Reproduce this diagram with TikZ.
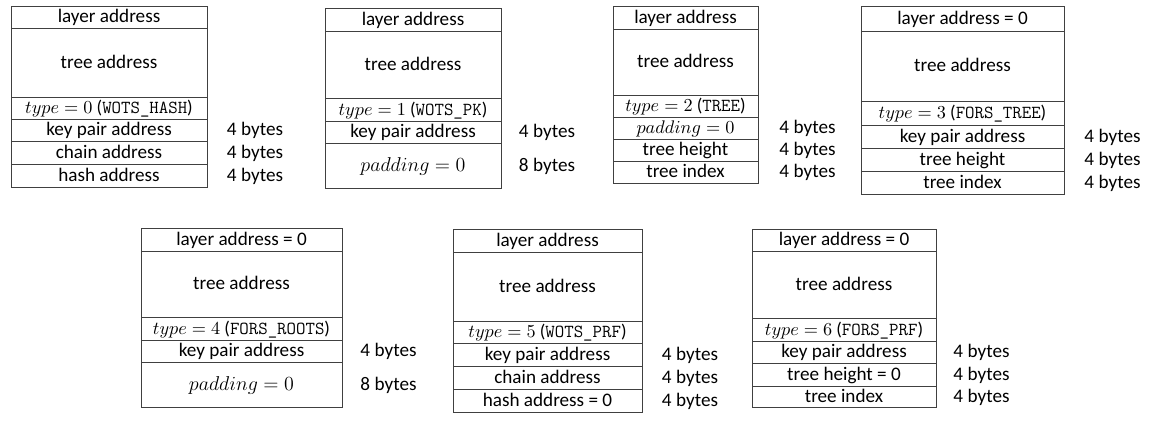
\documentclass[tikz,border=0pt]{standalone}
\usepackage{fontspec}
\setmainfont{Carlito}
\tikzset{
  frame/.style={draw=black!75, line width=0.6pt},
  field/.style={font=\fontsize{11.5}{13.5}\selectfont, inner sep=0pt, text height=7.8pt, text depth=2pt},
  typefield/.style={font=\fontsize{11}{13}\selectfont, inner sep=0pt, text height=7.5pt, text depth=2pt},
  padfield/.style={font=\fontsize{11.5}{13.5}\selectfont, inner sep=0pt, text height=7.8pt, text depth=2pt},
  bytes/.style={field}
}
\begin{document}
\begin{tikzpicture}[x=0.6pt, y=-0.6pt]
\useasboundingbox (0,0) rectangle (1159,428);
% type 0: WOTS_HASH
\draw[frame] (11,7) rectangle (207,188);
\foreach \y in {29,98,120,142,165} \draw[frame] (11,\y) -- (207,\y);
\node[field] (wh-layer) at (109,18) {layer address};
\node[field] (wh-tree) at (109,63.5) {tree address};
\node[typefield] (wh-type) at (109,109) {$type=0$ (\texttt{WOTS\_HASH})};
\node[field] (wh-kp) at (109,131) {key pair address};
\node[field] (wh-chain) at (109,153.5) {chain address};
\node[field] (wh-hash) at (109,176.5) {hash address};
\node[bytes] (wh-kpb) at (255,131) {4 bytes};
\node[bytes] (wh-chainb) at (255,153.5) {4 bytes};
\node[bytes] (wh-hashb) at (255,176.5) {4 bytes};
% type 1: WOTS_PK
\draw[frame] (325,9) rectangle (501,189);
\foreach \y in {32,99,122,144} \draw[frame] (325,\y) -- (501,\y);
\node[field] (wp-layer) at (413,20.5) {layer address};
\node[field] (wp-tree) at (413,65.5) {tree address};
\node[typefield] (wp-type) at (413,110.5) {$type=1$ (\texttt{WOTS\_PK})};
\node[field] (wp-kp) at (413,133) {key pair address};
\node[padfield] (wp-pad) at (413,166.5) {$padding=0$};
\node[bytes] (wp-kpb) at (547,133) {4 bytes};
\node[bytes] (wp-padb) at (547,166.5) {8 bytes};
% type 2: TREE
\draw[frame] (613,7) rectangle (758,184);
\foreach \y in {30,96,118,140,162} \draw[frame] (613,\y) -- (758,\y);
\node[field] (tr-layer) at (685.5,18.5) {layer address};
\node[field] (tr-tree) at (685.5,63) {tree address};
\node[typefield] (tr-type) at (685.5,107) {$type=2$ (\texttt{TREE})};
\node[typefield] (tr-pad) at (685.5,129) {$padding=0$};
\node[field] (tr-height) at (685.5,151) {tree height};
\node[field] (tr-index) at (685.5,173) {tree index};
\node[bytes] (tr-padb) at (807.5,129) {4 bytes};
\node[bytes] (tr-heightb) at (807.5,151) {4 bytes};
\node[bytes] (tr-indexb) at (807.5,173) {4 bytes};
% type 3: FORS_TREE
\draw[frame] (861,7) rectangle (1064,195);
\foreach \y in {32,102,126,149,172} \draw[frame] (861,\y) -- (1064,\y);
\node[field] (ft-layer) at (962.5,19.5) {layer address = 0};
\node[field] (ft-tree) at (962.5,67) {tree address};
\node[typefield] (ft-type) at (962.5,114) {$type=3$ (\texttt{FORS\_TREE})};
\node[field] (ft-kp) at (962.5,137.5) {key pair address};
\node[field] (ft-height) at (962.5,160.5) {tree height};
\node[field] (ft-index) at (962.5,183.5) {tree index};
\node[bytes] (ft-kpb) at (1112.5,137.5) {4 bytes};
\node[bytes] (ft-heightb) at (1112.5,160.5) {4 bytes};
\node[bytes] (ft-indexb) at (1112.5,183.5) {4 bytes};
% type 4: FORS_ROOTS
\draw[frame] (141,229) rectangle (342,408);
\foreach \y in {252,318,341,363} \draw[frame] (141,\y) -- (342,\y);
\node[field] (fr-layer) at (241.5,240.5) {layer address = 0};
\node[field] (fr-tree) at (241.5,285) {tree address};
\node[typefield] (fr-type) at (241.5,329.5) {$type=4$ (\texttt{FORS\_ROOTS})};
\node[field] (fr-kp) at (241.5,352) {key pair address};
\node[padfield] (fr-pad) at (241.5,385.5) {$padding=0$};
\node[bytes] (fr-kpb) at (388.5,352) {4 bytes};
\node[bytes] (fr-padb) at (388.5,385.5) {8 bytes};
% type 5: WOTS_PRF
\draw[frame] (453,230) rectangle (642,413);
\foreach \y in {253,322,344,367,390} \draw[frame] (453,\y) -- (642,\y);
\node[field] (wf-layer) at (547.5,241.5) {layer address};
\node[field] (wf-tree) at (547.5,287.5) {tree address};
\node[typefield] (wf-type) at (547.5,333) {$type=5$ (\texttt{WOTS\_PRF})};
\node[field] (wf-kp) at (547.5,355.5) {key pair address};
\node[field] (wf-chain) at (547.5,378.5) {chain address};
\node[field] (wf-hash) at (547.5,401.5) {hash address = 0};
\node[bytes] (wf-kpb) at (690,355.5) {4 bytes};
\node[bytes] (wf-chainb) at (690,378.5) {4 bytes};
\node[bytes] (wf-hashb) at (690,401.5) {4 bytes};
% type 6: FORS_PRF
\draw[frame] (752,230) rectangle (936,408);
\foreach \y in {252,319,342,364,387} \draw[frame] (752,\y) -- (936,\y);
\node[field] (fp-layer) at (844,241) {layer address = 0};
\node[field] (fp-tree) at (844,285.5) {tree address};
\node[typefield] (fp-type) at (844,330.5) {$type=6$ (\texttt{FORS\_PRF})};
\node[field] (fp-kp) at (844,353) {key pair address};
\node[field] (fp-height) at (844,375.5) {tree height = 0};
\node[field] (fp-index) at (844,397.5) {tree index};
\node[bytes] (fp-kpb) at (981.5,353) {4 bytes};
\node[bytes] (fp-heightb) at (981.5,375.5) {4 bytes};
\node[bytes] (fp-indexb) at (981.5,397.5) {4 bytes};
\end{tikzpicture}
\end{document}
